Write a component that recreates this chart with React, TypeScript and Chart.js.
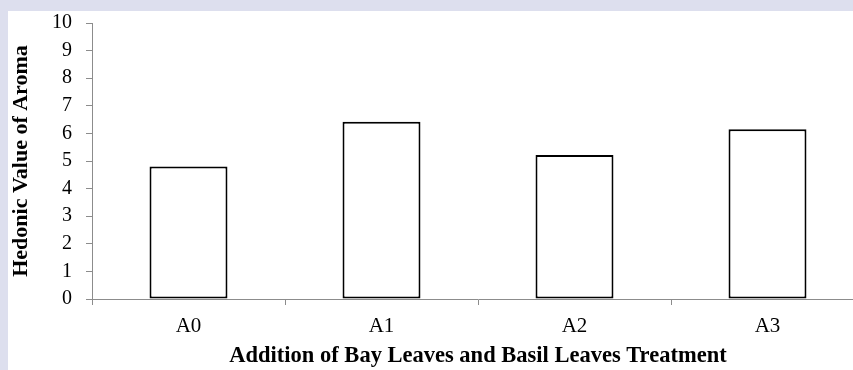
import React, { useEffect, useRef } from "react";
import { Chart, registerables } from "chart.js";

Chart.register(...registerables);

const categories = ["A0", "A1", "A2", "A3"];
const aromaValues = [4.8, 6.42, 5.22, 6.15];
const yTitle = "Hedonic Value of Aroma";
const xTitle = "Addition of Bay Leaves and Basil Leaves Treatment";

const FONT = "'Liberation Serif', 'Times New Roman', serif";
const AXIS = "#8c8c8c";

export default function App() {
  const ref = useRef<HTMLCanvasElement | null>(null);

  useEffect(() => {
    if (!ref.current) return;
    const chart = new Chart(ref.current, {
      type: "bar",
      data: {
        labels: categories,
        datasets: [
          {
            data: aromaValues,
            backgroundColor: "#ffffff",
            borderColor: "#000000",
            borderWidth: 2,
            borderSkipped: false,
            categoryPercentage: 1,
            barPercentage: 0.404,
          },
        ],
      },
      options: {
        responsive: false,
        animation: false,
        devicePixelRatio: 1,
        layout: { padding: { top: 0, right: 24, left: 0, bottom: 0 } },
        plugins: { legend: { display: false }, tooltip: { enabled: false } },
        scales: {
          x: {
            grid: {
              display: true,
              drawOnChartArea: false,
              drawTicks: true,
              tickLength: 6,
              color: AXIS,
              offset: true,
            },
            border: { display: true, color: AXIS, width: 1 },
            ticks: {
              color: "#000",
              padding: 9,
              font: { family: FONT, size: 21 },
            },
            title: {
              display: true,
              text: xTitle,
              color: "#000",
              padding: 0,
              font: { family: FONT, size: 22.5, weight: "bold" },
            },
            afterFit: (s: any) => {
              s.height = 71;
            },
          },
          y: {
            min: 0,
            max: 10,
            grid: {
              display: true,
              drawOnChartArea: false,
              drawTicks: true,
              tickLength: 6,
              color: AXIS,
            },
            border: { display: true, color: AXIS, width: 1 },
            ticks: {
              stepSize: 1,
              autoSkip: false,
              color: "#000",
              padding: 14,
              font: { family: FONT, size: 20 },
            },
            title: {
              display: true,
              text: yTitle,
              color: "#000",
              padding: 0,
              font: { family: FONT, size: 22, weight: "bold" },
            },
            afterFit: (s: any) => {
              s.width = 84;
              s.paddingTop = 12;
              s.paddingBottom = 0;
            },
          },
        },
      },
    });
    return () => chart.destroy();
  }, []);

  return (
    <div
      style={{
        position: "fixed",
        left: 0,
        top: 0,
        width: 853,
        height: 370,
        background: "#dddfee",
        overflow: "hidden",
      }}
    >
      <div
        style={{
          position: "absolute",
          left: 8,
          top: 11,
          width: 845,
          height: 359,
          background: "#ffffff",
          overflow: "hidden",
        }}
      >
        <canvas
          ref={ref}
          width={880}
          height={359}
          style={{ position: "absolute", left: 0, top: 0, width: 880, height: 359 }}
        />
      </div>
    </div>
  );
}
